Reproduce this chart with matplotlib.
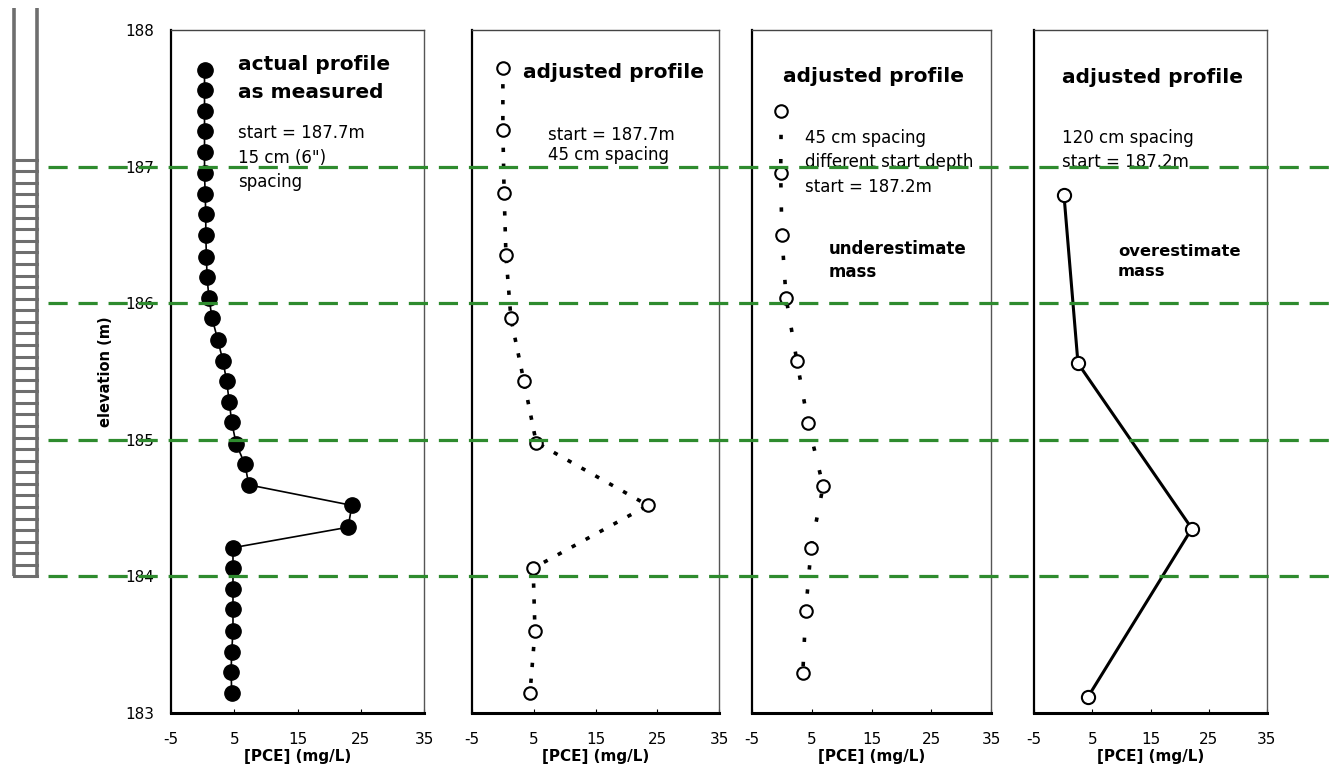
import matplotlib
matplotlib.use("Agg")
import matplotlib.pyplot as plt
import numpy as np

# -----------------------------
# PROFILE DATA  (elevation in m, PCE in mg/L)
# -----------------------------
# actual profile, 15 cm sample spacing from 187.7 m
elev_15cm = [187.71, 187.56, 187.41, 187.26, 187.11, 186.95, 186.80, 186.65,
             186.50, 186.34, 186.19, 186.04, 185.89, 185.73, 185.58, 185.43,
             185.28, 185.13, 184.97, 184.82, 184.67, 184.52, 184.36, 184.21,
             184.06, 183.91, 183.76, 183.60, 183.45, 183.30, 183.15]
pce_15cm = [0.3, 0.3, 0.3, 0.3, 0.3, 0.3, 0.4, 0.5, 0.5, 0.6, 0.7, 1.0,
            1.5, 2.4, 3.2, 3.8, 4.2, 4.6, 5.3, 6.7, 7.3, 23.6, 23.0, 4.8,
            4.8, 4.8, 4.8, 4.8, 4.6, 4.5, 4.6]

# 45 cm spacing, same start
elev_45cm_a = [187.72, 187.27, 186.81, 186.35, 185.89, 185.43, 184.98,
               184.52, 184.06, 183.60, 183.15]
pce_45cm_a = [0.0, 0.0, 0.2, 0.5, 1.3, 3.4, 5.4, 23.5, 4.9, 5.2, 4.4]

# 45 cm spacing, different start depth
elev_45cm_b = [187.41, 186.95, 186.50, 186.04, 185.58, 185.12, 184.66,
               184.21, 183.75, 183.29]
pce_45cm_b = [-0.1, -0.2, 0.0, 0.7, 2.5, 4.4, 6.9, 4.9, 4.0, 3.5]

# 120 cm spacing
elev_120cm = [186.79, 185.56, 184.35, 183.12]
pce_120cm = [0.15, 2.55, 22.1, 4.3]

ref_elevations = [187, 186, 185, 184]
x_ticks = [-5, 5, 15, 25, 35]
y_ticks = [183, 184, 185, 186, 187, 188]

# -----------------------------
# FIGURE LAYOUT
# -----------------------------
W, H = 1339, 780
fig = plt.figure(figsize=(W / 100, H / 100), dpi=100)
fig.patch.set_facecolor("white")

BOTTOM = (H - 713) / H
HEIGHT = 683 / H
panel_px = [(171, 424), (472, 719), (752, 991), (1034, 1267)]

axes = []
for left, right in panel_px:
    ax = fig.add_axes([left / W, BOTTOM, (right - left) / W, HEIGHT])
    ax.set_xlim(-5, 35)
    ax.set_ylim(183, 188)
    ax.set_xticks(x_ticks)
    ax.set_xticklabels([str(t) for t in x_ticks])
    ax.tick_params(axis="x", direction="in", length=3, pad=14, labelsize=11)
    ax.set_xlabel("[PCE] (mg/L)", fontsize=11, fontweight="bold", labelpad=1)
    ax.spines["bottom"].set_linewidth(2.2)
    ax.spines["left"].set_linewidth(1.6)
    ax.spines["top"].set_linewidth(1.0)
    ax.spines["top"].set_color("#444444")
    ax.spines["right"].set_linewidth(1.0)
    ax.spines["right"].set_color("#555555")
    axes.append(ax)

ax1, ax2, ax3, ax4 = axes

ax1.set_yticks(y_ticks)
ax1.tick_params(axis="y", length=0, pad=12, labelsize=11)
ax1.set_ylabel("elevation (m)", fontsize=10.5, fontweight="bold", labelpad=9)
for ax in (ax2, ax3, ax4):
    ax.set_yticks([])

# -----------------------------
# PROFILES
# -----------------------------
ax1.plot(pce_15cm, elev_15cm, color="black", lw=1.2, marker="o", ms=11,
         mfc="black", mec="black", clip_on=False, zorder=3)

ax2.plot(pce_45cm_a, elev_45cm_a, color="black", lw=2.6,
         linestyle=(0, (1.2, 3.2)), marker="o", ms=9, mfc="white",
         mec="black", mew=1.5, zorder=3)

ax3.plot(pce_45cm_b, elev_45cm_b, color="black", lw=2.6,
         linestyle=(0, (1.2, 5.5)), marker="o", ms=9, mfc="white",
         mec="black", mew=1.5, zorder=3)

ax4.plot(pce_120cm, elev_120cm, color="black", lw=2.2, marker="o", ms=9.5,
         mfc="white", mec="black", mew=1.5, zorder=3)

# -----------------------------
# ANNOTATIONS
# -----------------------------
head = dict(fontsize=14.5, fontweight="bold", va="top", ha="left")
body = dict(fontsize=12, va="top", ha="left", linespacing=1.45)

ax1.text(0.265, 0.963, "actual profile\nas measured", transform=ax1.transAxes,
         linespacing=1.55, **head)
ax1.text(0.265, 0.862, "start = 187.7m\n15 cm (6\")\nspacing",
         transform=ax1.transAxes, **body)

ax2.text(0.206, 0.952, "adjusted profile", transform=ax2.transAxes, **head)
ax2.text(0.308, 0.860, "start = 187.7m\n45 cm spacing",
         transform=ax2.transAxes, fontsize=12, va="top", ha="left",
         linespacing=1.15)

ax3.text(0.13, 0.946, "adjusted profile", transform=ax3.transAxes, **head)
ax3.text(0.222, 0.855, "45 cm spacing\ndifferent start depth\nstart = 187.2m",
         transform=ax3.transAxes, **body)
ax3.text(0.322, 0.693, "underestimate\nmass", transform=ax3.transAxes,
         fontsize=12, fontweight="bold", va="top", ha="left", linespacing=1.35)

ax4.text(0.12, 0.944, "adjusted profile", transform=ax4.transAxes, **head)
ax4.text(0.12, 0.855, "120 cm spacing\nstart = 187.2m",
         transform=ax4.transAxes, **body)
ax4.text(0.36, 0.686, "overestimate\nmass", transform=ax4.transAxes,
         fontsize=11.8, fontweight="bold", va="top", ha="left", linespacing=1.35)

# -----------------------------
# OVERLAY: well screen + reference elevations
# -----------------------------
ov = fig.add_axes([0, BOTTOM, 1, HEIGHT], zorder=10)
ov.set_xlim(0, 1)
ov.set_ylim(183, 188)
ov.axis("off")
ov.patch.set_visible(False)

# well casing and screen slots
rail_x = [14 / W, 37 / W]
casing_top, screen_top, screen_bottom = 188.16, 187.05, 184.0
ladder = "#6e6e6e"
for x in rail_x:
    ov.plot([x, x], [screen_bottom, casing_top], color=ladder, lw=2.6,
            solid_capstyle="butt", clip_on=False)
for y in np.linspace(screen_bottom, screen_top, 37):
    ov.plot(rail_x, [y, y], color=ladder, lw=2.2, clip_on=False)

# dashed reference elevations across all panels
ov.hlines(ref_elevations, 48 / W, 1, colors="#2e8b2e", lw=2.3,
          linestyles=(0, (6, 3.4)))

fig.savefig("out.png", dpi=100)
